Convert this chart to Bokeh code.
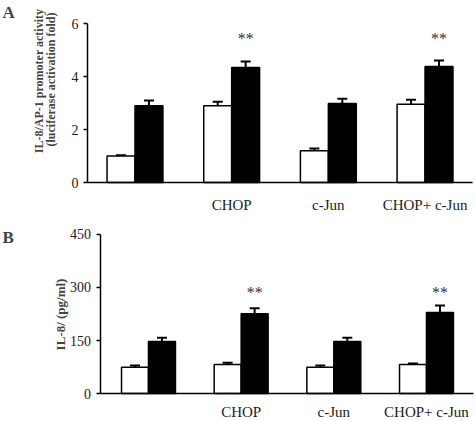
import math
from bokeh.plotting import figure
from bokeh.models import Label, Whisker, ColumnDataSource, FixedTicker, TeeHead, Range1d
from bokeh.layouts import column
from bokeh.embed import file_html
from bokeh.resources import INLINE
from bokeh.core.properties import value

# ---- data ----
groups = ["", "CHOP", "c-Jun", "CHOP+ c-Jun"]

a_white = [1.0, 2.9, 1.2, 2.95]
a_white_err = [0.03, 0.15, 0.08, 0.17]
a_black = [2.9, 4.34, 2.98, 4.38]
a_black_err = [0.19, 0.23, 0.18, 0.22]
a_sig = ["", "**", "", "**"]
a_yticks = [0, 2, 4, 6]

b_white = [74, 82, 74, 82]
b_white_err = [5, 5, 5, 3]
b_black = [147, 226, 147, 229]
b_black_err = [11, 15, 11, 20]
b_sig = ["", "**", "", "**"]
b_yticks = [0, 150, 300, 450]

SERIF = "Liberation Serif"
W = 475


def panel(white, werr, black, berr, sig, yticks, star_y, height, y_lo, y_hi,
          x_lo, x_hi, x_axis, x_end, bar_w, standoff, letter, letter_xy, ylines,
          ylab_x, ylab_y, ylab_size):
    p = figure(width=W, height=height, x_range=Range1d(x_lo, x_hi),
               y_range=Range1d(y_lo, y_hi), title=None,
               output_backend="svg", toolbar_location=None, min_border=0)
    p.outline_line_color = None
    p.grid.visible = False
    idx = list(range(len(groups)))
    xw = [i - bar_w / 2 for i in idx]
    xb = [i + bar_w / 2 for i in idx]
    src = ColumnDataSource(dict(xw=xw, xb=xb, w=white, b=black,
                                wu=[v + e for v, e in zip(white, werr)],
                                bu=[v + e for v, e in zip(black, berr)]))
    for col, low, top_u in (("xw", "w", "wu"), ("xb", "b", "bu")):
        p.add_layout(Whisker(base=col, lower=low, upper=top_u, source=src,
                             line_color="black", line_width=2,
                             upper_head=TeeHead(size=10, line_color="black", line_width=2),
                             lower_head=None))
    p.vbar(x=xw, top=white, width=bar_w, fill_color="white", line_color="black", line_width=1.5)
    p.vbar(x=xb, top=black, width=bar_w, fill_color="black", line_color="black", line_width=1.5)

    sx = [xb[i] for i in idx if sig[i]]
    st = [sig[i] for i in idx if sig[i]]
    p.text(x=sx, y=[star_y] * len(sx), text=st, text_align="center",
           text_baseline="alphabetic", text_font=value(SERIF), text_font_size="16px",
           text_color="#333333")

    ax = p.yaxis[0]
    ax.fixed_location = x_axis
    ax.bounds = (yticks[0], yticks[-1])
    ax.ticker = FixedTicker(ticks=yticks)
    ax.minor_tick_line_color = None
    ax.minor_tick_in = 0
    ax.minor_tick_out = 0
    ax.major_tick_in = 0
    ax.major_tick_out = 4
    ax.major_tick_line_color = "black"
    ax.major_tick_line_width = 1.5
    ax.axis_line_color = "black"
    ax.axis_line_width = 1.5
    ax.major_label_text_font = SERIF
    ax.major_label_text_font_size = "14px"
    ax.major_label_text_color = "#222222"
    ax.major_label_standoff = 5

    bx = p.xaxis[0]
    bx.fixed_location = yticks[0]
    bx.bounds = (x_axis, x_end)
    bx.ticker = FixedTicker(ticks=idx)
    bx.major_label_overrides = {i: g for i, g in zip(idx, groups)}
    bx.major_tick_line_color = None
    bx.major_tick_in = 0
    bx.major_tick_out = 0
    bx.minor_tick_line_color = None
    bx.minor_tick_in = 0
    bx.minor_tick_out = 0
    bx.axis_line_color = "black"
    bx.axis_line_width = 1.5
    bx.major_label_text_font = SERIF
    bx.major_label_text_font_size = "15px"
    bx.major_label_text_color = "#222222"
    bx.major_label_standoff = standoff

    p.add_layout(Label(x=letter_xy[0], y=letter_xy[1], x_units="screen", y_units="screen",
                       text=letter, text_font=SERIF, text_font_style="bold",
                       text_font_size="17px", text_align="left", text_baseline="top"))
    for k, line in enumerate(ylines):
        p.add_layout(Label(x=ylab_x[k], y=ylab_y, x_units="screen",
                           y_units="screen", text=line, angle=math.pi / 2,
                           text_font=SERIF, text_font_style="bold",
                           text_font_size=ylab_size,
                           text_align="center", text_baseline="middle"))
    return p


# panel A: canvas 216 px tall; 26.5 px per unit, 96.67 px per group
pA = panel(a_white, a_white_err, a_black, a_black_err, a_sig, a_yticks, 5.43,
           height=216, y_lo=-1.283, y_hi=6.868,
           x_lo=-1.391, x_hi=3.522, x_axis=-0.491, x_end=3.491, bar_w=0.289, standoff=14,
           letter="A", letter_xy=(2, 214),
           ylines=["IL-8/AP-1  promoter activity", "(luciferase activation fold)"],
           ylab_x=[38, 50], ylab_y=137, ylab_size="12px")
# panel B: canvas 205 px tall; 159/450 px per unit, 92.67 px per group
pB = panel(b_white, b_white_err, b_black, b_black_err, b_sig, b_yticks, 286,
           height=205, y_lo=-79.2, y_hi=500.9,
           x_lo=-1.597, x_hi=3.529, x_axis=-0.523, x_end=3.507, bar_w=0.291, standoff=10,
           letter="B", letter_xy=(2, 194),
           ylines=["IL-8/ (pg/ml)"],
           ylab_x=[60], ylab_y=107, ylab_size="13px")

layout = column(pA, pB, spacing=0)
open("out.html", "w").write(file_html(layout, INLINE))
